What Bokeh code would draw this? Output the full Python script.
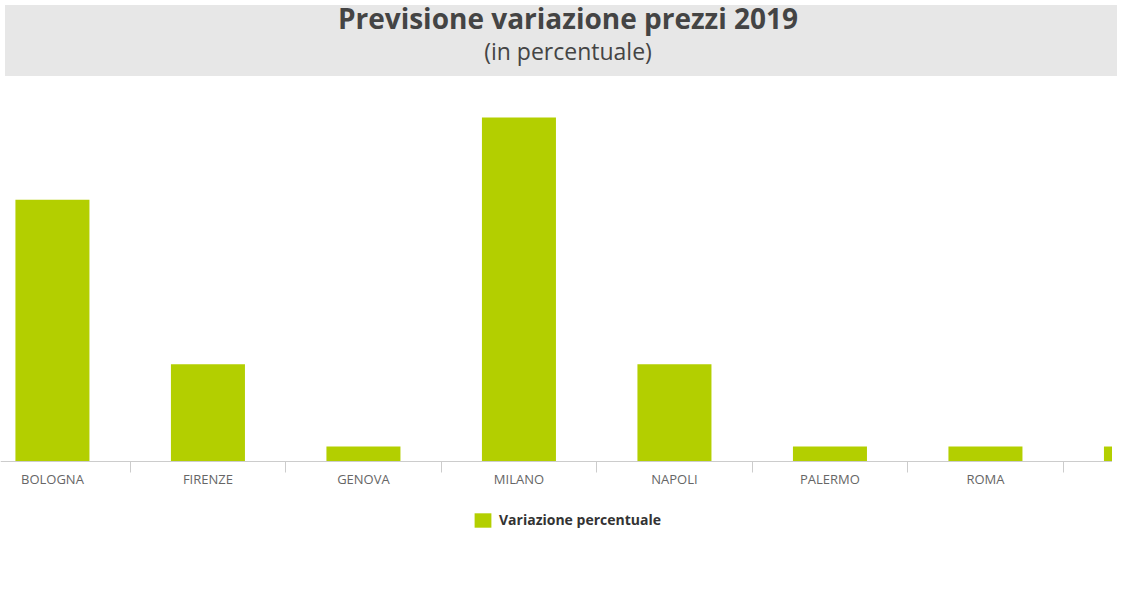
from bokeh.embed import file_html
from bokeh.layouts import column
from bokeh.models import Div, FixedTicker, Legend, LegendItem, Range1d
from bokeh.plotting import figure
from bokeh.resources import INLINE

# Data
cities = ['BOLOGNA', 'FIRENZE', 'GENOVA', 'MILANO', 'NAPOLI', 'PALERMO', 'ROMA', 'TORINO']
variazione = [3.5, 1.3, 0.2, 4.6, 1.3, 0.2, 0.2, 0.2]
series_name = 'Variazione percentuale'
title_text = 'Previsione variazione prezzi 2019'
subtitle_text = '(in percentuale)'

GREEN = '#b3cf00'
positions = list(range(len(cities)))

# Title band
header = Div(
    text=(f'<div style="font:bold 28px \'Open Sans\';line-height:26px;color:#444;padding-left:14px">{title_text}</div>'
          f'<div style="font:23px \'Open Sans\';line-height:40px;color:#444;padding-left:14px">{subtitle_text}</div>'),
    width=1112, height=71,
    styles={'background-color': '#e7e7e7', 'text-align': 'center'},
)

# Chart (the view is shifted so the first and last categories are cut, as in the original).
# The frame runs below zero so the legend can sit under the axis.
p = figure(frame_width=1112, frame_height=460, output_backend="svg", toolbar_location=None,
           x_range=Range1d(-0.334, 6.817), y_range=Range1d(-1.07, 5.081),
           y_axis_location=None, min_border_left=0, min_border_right=0,
           min_border_top=0, min_border_bottom=0)
p.outline_line_color = None
p.grid.grid_line_color = None

bars = p.vbar(x=positions, top=variazione, width=0.476, fill_color=GREEN, line_color=None)

ax = p.xaxis[0]
ax.fixed_location = 0
ax.ticker = FixedTicker(ticks=positions, minor_ticks=[i + 0.5 for i in range(-1, len(cities))])
ax.major_label_overrides = {i: c for i, c in enumerate(cities)}
ax.axis_line_color = '#cccccc'
ax.major_tick_line_color = None
ax.major_tick_out = 0
ax.major_tick_in = 0
ax.minor_tick_line_color = '#cccccc'
ax.minor_tick_out = 11
ax.minor_tick_in = 0
ax.major_label_standoff = -2
ax.major_label_text_font = 'Open Sans'
ax.major_label_text_font_size = '13px'
ax.major_label_text_color = '#666666'

legend = Legend(items=[LegendItem(label=series_name, renderers=[bars])],
                orientation='horizontal', location=(472, 12),
                border_line_color=None, background_fill_alpha=0,
                glyph_width=21, glyph_height=18,
                label_standoff=6, label_text_font='Open Sans',
                label_text_font_size='14px', label_text_font_style='bold',
                label_text_color='#333333', margin=0, padding=5)
p.add_layout(legend)

layout = column(header, p)
open("out.html", "w").write(file_html(layout, INLINE))
